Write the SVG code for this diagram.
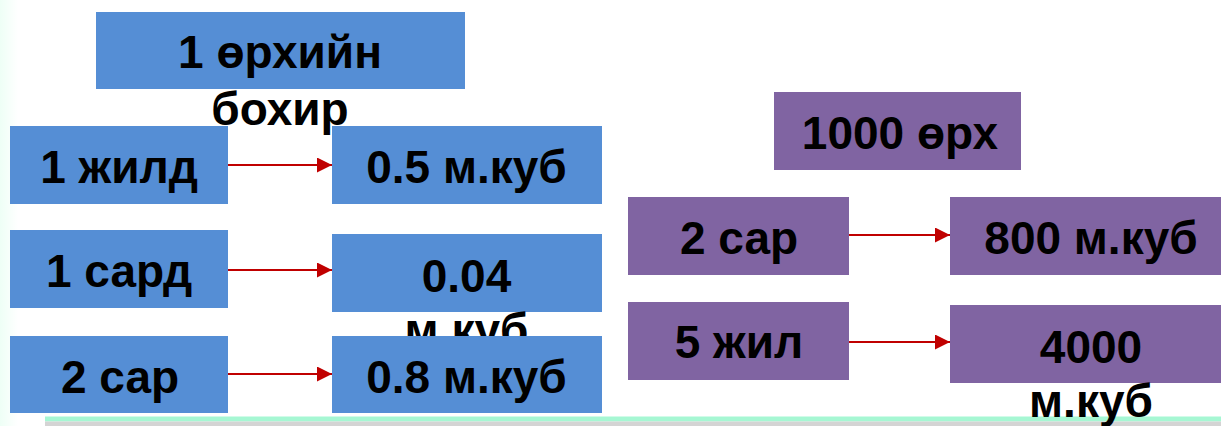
<svg xmlns="http://www.w3.org/2000/svg" width="1221" height="426" viewBox="0 0 1221 426">
<style>
.blue{fill:#558ED5}
.purple{fill:#8064A2}
.t{font-family:"Liberation Sans",Arial,sans-serif;font-weight:bold;font-size:46px;fill:#000;text-anchor:middle}
.arr{stroke:#C00000;stroke-width:2;fill:none;marker-end:url(#ah)}
</style>
<defs>
<marker id="ah" markerUnits="userSpaceOnUse" markerWidth="16" markerHeight="16" refX="15" refY="7.5" orient="auto">
<path d="M0,0 L15,7.5 L0,15 z" fill="#C00000"/>
</marker>
<linearGradient id="edge" x1="0" y1="0" x2="1" y2="0">
<stop offset="0" stop-color="#EEFFF6"/>
<stop offset="1" stop-color="#FFFFFF"/>
</linearGradient>
</defs>
<rect x="0" y="0" width="1221" height="426" fill="#FFFFFF"/>
<rect x="0" y="0" width="18" height="426" fill="url(#edge)"/>
<g id="baseline">
<rect x="45" y="416.5" width="1176" height="5" fill="#A6F7D3"/>
<rect x="45" y="421.5" width="1176" height="4.5" fill="#D4D4D4"/>
</g>
<g id="connectors">
<line class="arr" x1="228" y1="165" x2="332" y2="165"/>
<line class="arr" x1="228" y1="270" x2="332" y2="270"/>
<line class="arr" x1="228" y1="374" x2="332" y2="374"/>
<line class="arr" x1="849" y1="235" x2="950" y2="235"/>
<line class="arr" x1="849" y1="342" x2="950" y2="342"/>
</g>
<g id="household">
<rect class="blue" x="96" y="12" width="369" height="77"/>
<text class="t" x="280" y="68">1 өрхийн</text>
<text class="t" x="280" y="125">бохир</text>
</g>
<g id="year1">
<rect class="blue" x="10" y="126" width="218" height="78"/>
<text class="t" x="119" y="183">1 жилд</text>
</g>
<g id="v05">
<rect class="blue" x="332" y="126" width="270" height="78"/>
<text class="t" x="466.5" y="183">0.5 м.куб</text>
</g>
<g id="month1">
<rect class="blue" x="10" y="230" width="218" height="78"/>
<text class="t" x="119" y="287">1 сард</text>
</g>
<g id="v004">
<rect class="blue" x="332" y="234" width="270" height="78"/>
<text class="t" x="466.5" y="291.5">0.04</text>
<text class="t" x="466.5" y="346">м.куб</text>
</g>
<g id="month2">
<rect class="blue" x="10" y="336" width="218" height="77"/>
<text class="t" x="120" y="393">2 сар</text>
</g>
<g id="v08">
<rect class="blue" x="332" y="336" width="270" height="77"/>
<text class="t" x="466.5" y="393">0.8 м.куб</text>
</g>
<g id="households1000">
<rect class="purple" x="774" y="92" width="247" height="78"/>
<text class="t" x="900" y="149">1000 өрх</text>
</g>
<g id="pmonth2">
<rect class="purple" x="628" y="197" width="221" height="78"/>
<text class="t" x="739" y="254">2 сар</text>
</g>
<g id="v800">
<rect class="purple" x="950" y="197" width="282" height="78"/>
<text class="t" x="1091" y="253.5">800 м.куб</text>
</g>
<g id="year5">
<rect class="purple" x="628" y="302" width="221" height="78"/>
<text class="t" x="739" y="358">5 жил</text>
</g>
<g id="v4000">
<rect class="purple" x="950" y="305" width="282" height="78"/>
<text class="t" x="1091" y="362.7">4000</text>
<text class="t" x="1091" y="417">м.куб</text>
</g>
</svg>
